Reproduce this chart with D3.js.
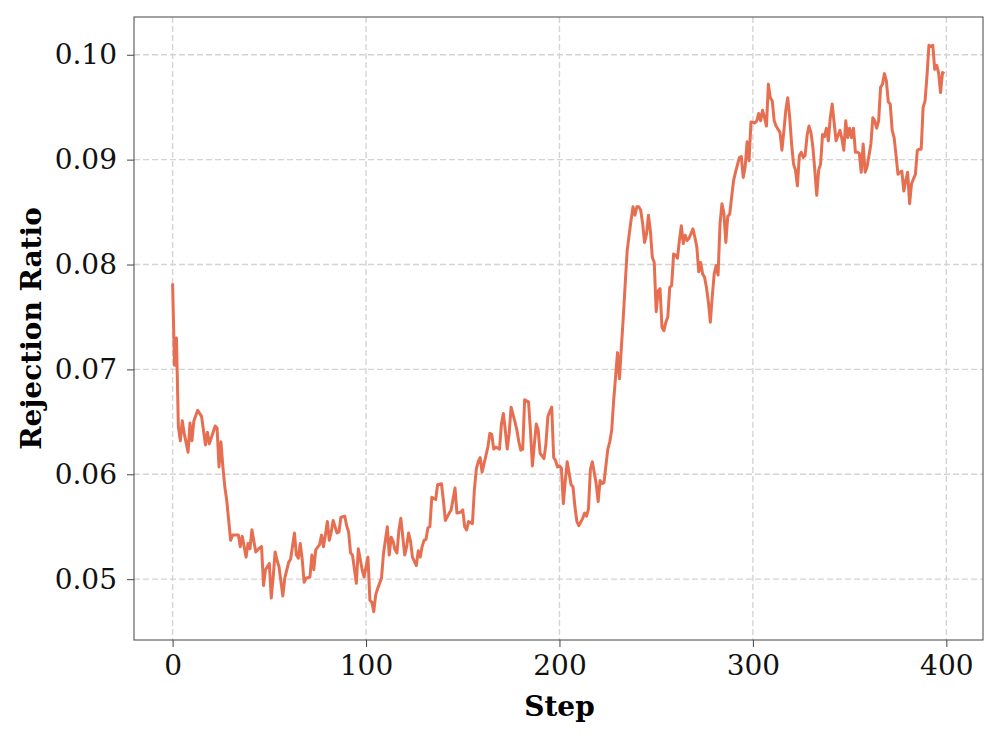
<!DOCTYPE html>
<html>
<head>
<meta charset="utf-8">
<script src="https://cdn.jsdelivr.net/npm/d3@7"></script>
<style>
  body { margin: 0; background: #fff; }
  text { font-family: 'DejaVu Serif', serif; }
</style>
</head>
<body>
<div id="chart"></div>
<script>
// values
const steps = [
  0, 1, 2, 3, 4, 5, 6, 8, 9, 10, 11, 13, 15, 17, 18, 19, 22, 23, 24, 25, 26, 27, 28, 30, 31, 34,
  35, 36, 38, 39, 40, 41, 43, 45, 46, 47, 48, 50, 51, 52, 53, 54, 55, 57, 58, 60, 61, 63, 64, 65,
  66, 67, 68, 69, 71, 72, 73, 74, 76, 77, 78, 79, 80, 81, 82, 83, 85, 86, 87, 89, 90, 91, 92, 93,
  95, 96, 98, 99, 101, 102, 103, 104, 105, 106, 108, 109, 111, 112, 113, 114, 115, 116, 117, 118,
  120, 121, 122, 123, 124, 126, 127, 128, 129, 130, 131, 132, 133, 134, 136, 137, 139, 140, 141,
  143, 144, 146, 147, 149, 150, 151, 152, 153, 155, 156, 157, 158, 159, 160, 162, 163, 164, 165,
  166, 167, 169, 170, 171, 172, 173, 174, 175, 177, 178, 179, 180, 181, 182, 184, 185, 186, 188,
  189, 190, 192, 193, 194, 195, 196, 197, 198, 199, 200, 201, 202, 203, 204, 206, 207, 208, 209,
  210, 212, 213, 214, 215, 216, 217, 219, 220, 221, 222, 223, 225, 226, 227, 228, 229, 230, 231,
  232, 233, 234, 235, 236, 237, 238, 239, 240, 241, 242, 243, 244, 245, 246, 247, 248, 249, 250,
  251, 252, 253, 254, 255, 256, 257, 258, 259, 260, 261, 262, 263, 264, 265, 266, 267, 269, 270,
  271, 272, 273, 274, 275, 276, 277, 278, 279, 280, 281, 282, 283, 284, 285, 286, 287, 288, 289,
  290, 291, 292, 293, 294, 295, 296, 297, 298, 299, 301, 302, 303, 304, 305, 306, 307, 308, 309,
  310, 311, 312, 313, 314, 315, 316, 317, 318, 319, 320, 321, 322, 323, 324, 325, 326, 327, 328,
  329, 330, 331, 332, 333, 334, 335, 336, 337, 338, 339, 340, 341, 342, 343, 345, 346, 347, 348,
  349, 350, 351, 352, 353, 354, 355, 356, 357, 358, 359, 360, 361, 362, 363, 364, 365, 366, 367,
  368, 369, 370, 371, 372, 373, 374, 375, 376, 377, 378, 379, 380, 381, 382, 384, 385, 386, 387,
  388, 389, 390, 391, 392, 393, 394, 395, 396, 397, 398, 399
]

const ratios = [
  0.0782, 0.0704, 0.0730, 0.0645, 0.0632, 0.0651, 0.0639, 0.0621, 0.0649, 0.0632, 0.0651, 0.0661,
  0.0655, 0.0628, 0.0640, 0.0629, 0.0646, 0.0644, 0.0607, 0.0631, 0.0607, 0.0588, 0.0575, 0.0537,
  0.0542, 0.0542, 0.0531, 0.0541, 0.0521, 0.0534, 0.0529, 0.0547, 0.0526, 0.0530, 0.0531, 0.0494,
  0.0509, 0.0515, 0.0482, 0.0502, 0.0526, 0.0518, 0.0512, 0.0484, 0.0501, 0.0516, 0.0519, 0.0544,
  0.0523, 0.0520, 0.0534, 0.0519, 0.0497, 0.0501, 0.0502, 0.0523, 0.0509, 0.0528, 0.0533, 0.0542,
  0.0531, 0.0542, 0.0555, 0.0537, 0.0545, 0.0556, 0.0544, 0.0545, 0.0559, 0.0560, 0.0551, 0.0545,
  0.0525, 0.0523, 0.0496, 0.0529, 0.0509, 0.0502, 0.0521, 0.0480, 0.0478, 0.0469, 0.0485, 0.0491,
  0.0501, 0.0524, 0.0550, 0.0523, 0.0540, 0.0536, 0.0528, 0.0525, 0.0547, 0.0558, 0.0523, 0.0531,
  0.0544, 0.0536, 0.0521, 0.0513, 0.0527, 0.0521, 0.0531, 0.0537, 0.0538, 0.0549, 0.0550, 0.0578,
  0.0576, 0.0590, 0.0591, 0.0575, 0.0556, 0.0563, 0.0566, 0.0587, 0.0563, 0.0564, 0.0566, 0.0550,
  0.0547, 0.0555, 0.0553, 0.0585, 0.0605, 0.0612, 0.0616, 0.0602, 0.0618, 0.0626, 0.0639, 0.0638,
  0.0624, 0.0626, 0.0624, 0.0648, 0.0658, 0.0642, 0.0624, 0.0639, 0.0664, 0.0650, 0.0642, 0.0631,
  0.0623, 0.0624, 0.0671, 0.0669, 0.0642, 0.0608, 0.0648, 0.0642, 0.0620, 0.0615, 0.0629, 0.0655,
  0.0660, 0.0664, 0.0616, 0.0613, 0.0607, 0.0608, 0.0606, 0.0572, 0.0594, 0.0612, 0.0590, 0.0588,
  0.0569, 0.0555, 0.0551, 0.0558, 0.0563, 0.0560, 0.0567, 0.0605, 0.0612, 0.0591, 0.0574, 0.0594,
  0.0591, 0.0592, 0.0624, 0.0631, 0.0642, 0.0670, 0.0693, 0.0716, 0.0691, 0.0721, 0.0750, 0.0782,
  0.0813, 0.0828, 0.0842, 0.0855, 0.0847, 0.0855, 0.0855, 0.0852, 0.0839, 0.0821, 0.0829, 0.0847,
  0.0832, 0.0807, 0.0802, 0.0755, 0.0775, 0.0777, 0.0740, 0.0737, 0.0745, 0.0750, 0.0778, 0.0780,
  0.0810, 0.0809, 0.0806, 0.0823, 0.0837, 0.0820, 0.0828, 0.0823, 0.0825, 0.0834, 0.0826, 0.0817,
  0.0793, 0.0802, 0.0791, 0.0788, 0.0778, 0.0764, 0.0745, 0.0770, 0.0791, 0.0799, 0.0790, 0.0839,
  0.0858, 0.0849, 0.0821, 0.0846, 0.0848, 0.0864, 0.0880, 0.0888, 0.0895, 0.0902, 0.0903, 0.0883,
  0.0893, 0.0917, 0.0899, 0.0936, 0.0935, 0.0937, 0.0944, 0.0937, 0.0947, 0.0940, 0.0932, 0.0972,
  0.0959, 0.0956, 0.0937, 0.0932, 0.0929, 0.0926, 0.0909, 0.0927, 0.0947, 0.0959, 0.0941, 0.0915,
  0.0896, 0.0890, 0.0875, 0.0904, 0.0907, 0.0902, 0.0904, 0.0923, 0.0932, 0.0926, 0.0912, 0.0890,
  0.0866, 0.0890, 0.0896, 0.0924, 0.0922, 0.0930, 0.0918, 0.0940, 0.0953, 0.0935, 0.0918, 0.0928,
  0.0920, 0.0909, 0.0937, 0.0921, 0.0930, 0.0921, 0.0930, 0.0907, 0.0907, 0.0906, 0.0888, 0.0915,
  0.0888, 0.0893, 0.0904, 0.0915, 0.0940, 0.0937, 0.0930, 0.0937, 0.0969, 0.0972, 0.0982, 0.0975,
  0.0955, 0.0953, 0.0928, 0.0921, 0.0904, 0.0886, 0.0888, 0.0889, 0.0870, 0.0880, 0.0888, 0.0858,
  0.0877, 0.0886, 0.0909, 0.0910, 0.0910, 0.0950, 0.0956, 0.0980, 0.1009, 0.1008, 0.1009, 0.0986,
  0.0990, 0.0983, 0.0964, 0.0983, 0.0982
]

const xTicks = [0, 100, 200, 300, 400]
const yTicks = [0.05, 0.06, 0.07, 0.08, 0.09, 0.10]

const margin = { top: 17, left: 134, right: 14, bottom: 99 }
const width = 997 - margin.left - margin.right
const height = 739 - margin.top - margin.bottom

const svg = d3
  .select('#chart')
  .append('svg')
  .attr('width', width + margin.left + margin.right)
  .attr('height', height + margin.top + margin.bottom)
  .append('g')
  .attr('transform', 'translate(' + margin.left + ',' + margin.top + ')')

const points = steps.map((s, i) => ({ step: s, ratio: ratios[i] }))

// matplotlib style 5% padding on both axes
const xExt = d3.extent(steps)
const yExt = d3.extent(ratios)
const xPad = (xExt[1] - xExt[0]) * 0.05
const yPad = (yExt[1] - yExt[0]) * 0.05

const xPositionScale = d3
  .scaleLinear()
  .domain([xExt[0] - xPad, xExt[1] + xPad])
  .range([0, width])
const yPositionScale = d3
  .scaleLinear()
  .domain([yExt[0] - yPad, yExt[1] + yPad])
  .range([height, 0])

// grid
svg
  .selectAll('.x-grid')
  .data(xTicks)
  .enter()
  .append('line')
  .attr('class', 'x-grid')
  .attr('x1', d => xPositionScale(d))
  .attr('x2', d => xPositionScale(d))
  .attr('y1', 0)
  .attr('y2', height)
  .attr('stroke', '#d4d4d4')
  .attr('stroke-width', 1.4)
  .attr('stroke-dasharray', '6,3')

svg
  .selectAll('.y-grid')
  .data(yTicks)
  .enter()
  .append('line')
  .attr('class', 'y-grid')
  .attr('x1', 0)
  .attr('x2', width)
  .attr('y1', d => yPositionScale(d))
  .attr('y2', d => yPositionScale(d))
  .attr('stroke', '#d4d4d4')
  .attr('stroke-width', 1.4)
  .attr('stroke-dasharray', '6,3')

const line = d3
  .line()
  .x(d => xPositionScale(d.step))
  .y(d => yPositionScale(d.ratio))

svg
  .append('path')
  .datum(points)
  .attr('d', line)
  .attr('fill', 'none')
  .attr('stroke', '#e76f51')
  .attr('stroke-width', 3)
  .attr('stroke-linejoin', 'round')

// axes
const xAxis = d3
  .axisBottom(xPositionScale)
  .tickValues(xTicks)
  .tickFormat(d3.format('d'))
  .tickSize(7)
  .tickPadding(8)
const yAxis = d3
  .axisLeft(yPositionScale)
  .tickValues(yTicks)
  .tickFormat(d3.format('.2f'))
  .tickSize(7)
  .tickPadding(10)

svg
  .append('g')
  .attr('class', 'axis x-axis')
  .attr('transform', 'translate(0,' + height + ')')
  .call(xAxis)
svg
  .append('g')
  .attr('class', 'axis y-axis')
  .call(yAxis)

svg.selectAll('.axis .domain').remove()
svg.selectAll('.axis line').attr('stroke', '#444').attr('stroke-width', 1)
svg
  .selectAll('.axis text')
  .attr('font-family', "'DejaVu Serif', serif")
  .attr('font-size', 28)
  .attr('fill', '#111')

// frame
svg
  .append('rect')
  .attr('x', 0)
  .attr('y', 0)
  .attr('width', width)
  .attr('height', height)
  .attr('fill', 'none')
  .attr('stroke', '#444')
  .attr('stroke-width', 1)

svg
  .append('text')
  .attr('x', xPositionScale(200))
  .attr('y', height + 76)
  .attr('text-anchor', 'middle')
  .attr('font-size', 28)
  .attr('font-weight', 'bold')
  .text('Step')

svg
  .append('text')
  .attr('transform', 'translate(' + -93 + ',' + height / 2 + ') rotate(-90)')
  .attr('text-anchor', 'middle')
  .attr('font-size', 28)
  .attr('font-weight', 'bold')
  .text('Rejection Ratio')
</script>
</body>
</html>
